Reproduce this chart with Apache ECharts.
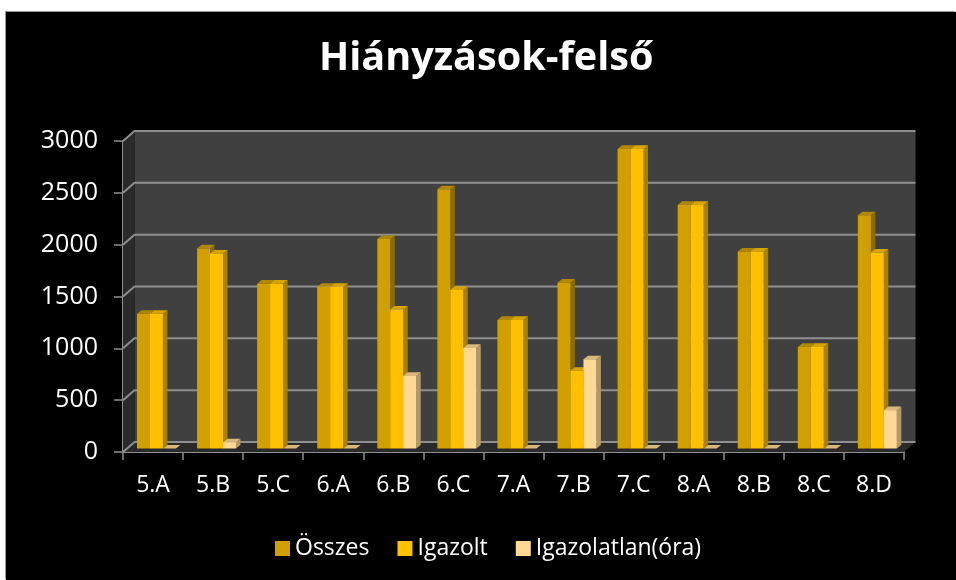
<!DOCTYPE html>
<html>
<head>
<meta charset="utf-8">
<style>
  html, body { margin: 0; padding: 0; background: #fff; }
  #main { position: absolute; left: 6px; top: 12px; width: 950px; height: 568px; box-shadow: -1px -1px 0 #999; }
</style>
<script src="https://cdn.jsdelivr.net/npm/echarts@6/dist/echarts.min.js"></script>
</head>
<body>
<div id="main"></div>
<script>
// 数据
const categories = ['5.A', '5.B', '5.C', '6.A', '6.B', '6.C', '7.A', '7.B', '7.C', '8.A', '8.B', '8.C', '8.D'];
const osszes = [1300, 1930, 1590, 1560, 2020, 2500, 1240, 1600, 2890, 2350, 1900, 980, 2250];
const igazolt = [1300, 1880, 1590, 1560, 1340, 1530, 1240, 750, 2890, 2350, 1900, 980, 1890];
const igazolatlan = [0, 60, 0, 0, 700, 970, 0, 860, 0, 0, 0, 0, 370];
const yTicks = [0, 500, 1000, 1500, 2000, 2500, 3000];

const FONT = '"Open Sans", sans-serif';
// 3D 深度偏移
const DEPTH_X = 11.5;
const DEPTH_Y = -10;

const chart = echarts.init(document.getElementById('main'));

// 墙面和网格线
function renderWall(params, api) {
  const tick = api.value(0);
  const idx = params.dataIndex;
  const front = api.coord([0, tick]);
  const size = api.size([1, 0]);
  const left = front[0] - size[0] / 2;
  const right = left + size[0] * categories.length;
  const base = api.coord([0, 0])[1];
  const top = api.coord([0, yTicks[yTicks.length - 1]])[1];
  const children = [];
  if (idx === 0) {
    children.push({
      type: 'rect',
      shape: { x: left + DEPTH_X, y: top + DEPTH_Y, width: right - left, height: base - top },
      style: { fill: '#404040' }
    }, {
      type: 'polygon',
      shape: { points: [[left, top], [left + DEPTH_X, top + DEPTH_Y], [left + DEPTH_X, base + DEPTH_Y], [left, base]] },
      style: { fill: '#2a2a2a' }
    }, {
      type: 'polygon',
      shape: { points: [[left, base], [left + DEPTH_X, base + DEPTH_Y], [right + DEPTH_X, base + DEPTH_Y], [right, base]] },
      style: { fill: '#2a2a2a' }
    });
  }
  const y = front[1];
  children.push({
    type: 'polyline',
    shape: { points: [[left, y], [left + DEPTH_X, y + DEPTH_Y], [right + DEPTH_X, y + DEPTH_Y]] },
    style: { stroke: '#8f8f8f', lineWidth: 2, fill: null }
  });
  return { type: 'group', children: children };
}

// 3D 柱子
function makeBarRender(slot, front, side, top) {
  return function (params, api) {
    const cat = api.value(0);
    const val = api.value(1);
    const band = api.size([1, 0])[0];
    const w = band * 0.2159;
    const d = 4.5;
    const origin = api.coord([cat, 0]);
    const head = api.coord([cat, val]);
    const x0 = origin[0] - band / 2 + band * 0.2326 + slot * w;
    const x1 = x0 + w;
    const y0 = origin[1] - 3.5;
    const y1 = head[1] - 3.5;
    return {
      type: 'group',
      children: [
        { type: 'polygon', shape: { points: [[x1, y0], [x1 + d, y0 - d * 0.8], [x1 + d, y1 - d * 0.8], [x1, y1]] }, style: { fill: side } },
        { type: 'polygon', shape: { points: [[x0, y1], [x0 + d, y1 - d * 0.8], [x1 + d, y1 - d * 0.8], [x1, y1]] }, style: { fill: top } },
        { type: 'rect', shape: { x: x0, y: y1, width: w, height: y0 - y1 }, style: { fill: front } }
      ]
    };
  };
}

function barSeries(name, values, slot, front, side, top) {
  return {
    name: name,
    type: 'custom',
    coordinateSystem: 'cartesian2d',
    renderItem: makeBarRender(slot, front, side, top),
    encode: { x: 0, y: 1 },
    itemStyle: { color: front },
    data: values.map((v, i) => [i, v]),
    z: 3 + slot
  };
}

chart.setOption({
  backgroundColor: '#000',
  animation: false,
  title: {
    text: 'Hiányzások-felső',
    left: 313,
    top: 27,
    padding: 0,
    textStyle: { color: '#fff', fontFamily: FONT, fontSize: 39.6, fontWeight: 'bold' }
  },
  legend: {
    data: ['Összes', 'Igazolt', 'Igazolatlan(óra)'],
    bottom: 15,
    left: 264,
    icon: 'rect',
    itemWidth: 15,
    itemHeight: 15,
    itemGap: 28,
    textStyle: { color: '#fff', fontFamily: FONT, fontSize: 23 }
  },
  grid: { left: 117, right: 52, top: 129, bottom: 128 },
  xAxis: {
    type: 'category',
    data: categories,
    axisLine: { lineStyle: { color: '#8f8f8f', width: 2 } },
    axisTick: { show: true, alignWithLabel: false, length: 8, lineStyle: { color: '#8f8f8f', width: 1.5 } },
    axisLabel: { color: '#fff', fontFamily: FONT, fontSize: 23, margin: 22 }
  },
  yAxis: {
    type: 'value',
    min: 0,
    max: 3000,
    interval: 500,
    axisLine: { show: true, lineStyle: { color: '#8f8f8f', width: 2 } },
    axisTick: { show: true, length: 9, lineStyle: { color: '#8f8f8f', width: 1.5 } },
    axisLabel: { color: '#fff', fontFamily: FONT, fontSize: 25, margin: 25, formatter: v => String(v) },
    splitLine: { show: false }
  },
  series: [
    {
      type: 'custom',
      coordinateSystem: 'cartesian2d',
      renderItem: renderWall,
      encode: { y: 0 },
      data: yTicks.map(t => [t]),
      silent: true,
      legendHoverLink: false,
      z: 1
    },
    barSeries('Összes', osszes, 0, '#d19f00', '#8c6c00', '#b08800'),
    barSeries('Igazolt', igazolt, 1, '#ffc000', '#a98000', '#d8a400'),
    barSeries('Igazolatlan(óra)', igazolatlan, 2, '#ffd893', '#b39868', '#d9b87e')
  ]
});
</script>
</body>
</html>
